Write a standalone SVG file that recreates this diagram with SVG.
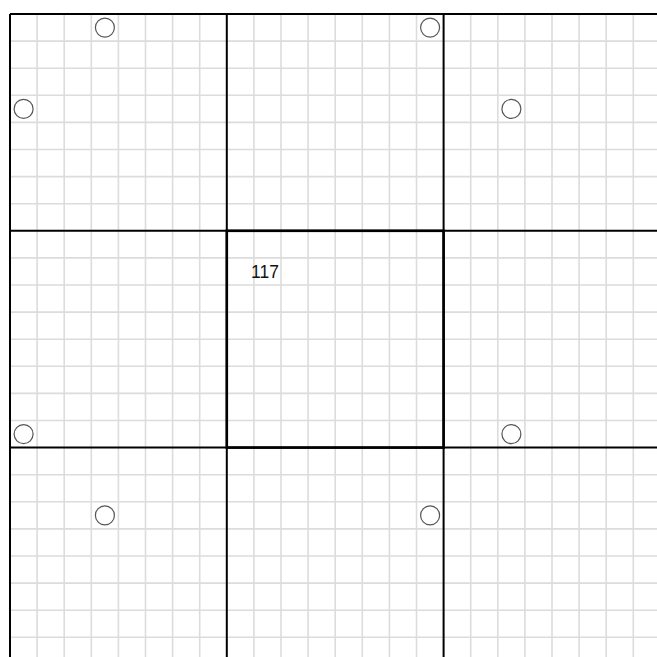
<svg xmlns="http://www.w3.org/2000/svg" width="657" height="657" viewBox="0 0 657 657">
<defs>
<style>
.g{stroke:#dcdcdc;stroke-width:1.6;fill:none}
.b{stroke:#000;stroke-width:2;fill:none}
.c{stroke:#000;stroke-width:2.6;fill:none}
.o{stroke:#555;stroke-width:1.2;fill:#fff}
.t{font-family:"Liberation Sans",Arial,sans-serif;font-size:17.5px;fill:#111}
</style>
</defs>
<rect width="657" height="657" fill="#fff"/>
<g id="grid-lines">
<path class="g" d="M37.1 14V657M64.2 14V657M91.3 14V657M118.4 14V657M145.5 14V657M172.6 14V657M199.7 14V657M253.9 14V657M281 14V657M308.1 14V657M335.2 14V657M362.3 14V657M389.4 14V657M416.5 14V657M470.7 14V657M497.8 14V657M524.9 14V657M552 14V657M579.1 14V657M606.2 14V657M633.3 14V657M10 41.1H657M10 68.2H657M10 95.3H657M10 122.4H657M10 149.5H657M10 176.6H657M10 203.7H657M10 257.9H657M10 285H657M10 312.1H657M10 339.2H657M10 366.3H657M10 393.4H657M10 420.5H657M10 474.7H657M10 501.8H657M10 528.9H657M10 556H657M10 583.1H657M10 610.2H657M10 637.3H657"/>
</g>
<g id="tiles">
<path class="b" d="M10 14H657M10 14V657M226.8 14V657M443.6 14V657M10 230.8H657M10 447.6H657"/>
</g>
<g id="center-tile">
<rect class="c" x="226.8" y="230.8" width="216.8" height="216.8"/>
<text class="t" x="251" y="277.7">117</text>
</g>
<g id="markers">
<circle class="o" cx="104.9" cy="27.6" r="9.5"/>
<circle class="o" cx="430.1" cy="27.6" r="9.5"/>
<circle class="o" cx="23.6" cy="108.9" r="9.5"/>
<circle class="o" cx="511.4" cy="108.9" r="9.5"/>
<circle class="o" cx="23.6" cy="434.1" r="9.5"/>
<circle class="o" cx="511.4" cy="434.1" r="9.5"/>
<circle class="o" cx="104.9" cy="515.4" r="9.5"/>
<circle class="o" cx="430.1" cy="515.4" r="9.5"/>
</g>
</svg>
